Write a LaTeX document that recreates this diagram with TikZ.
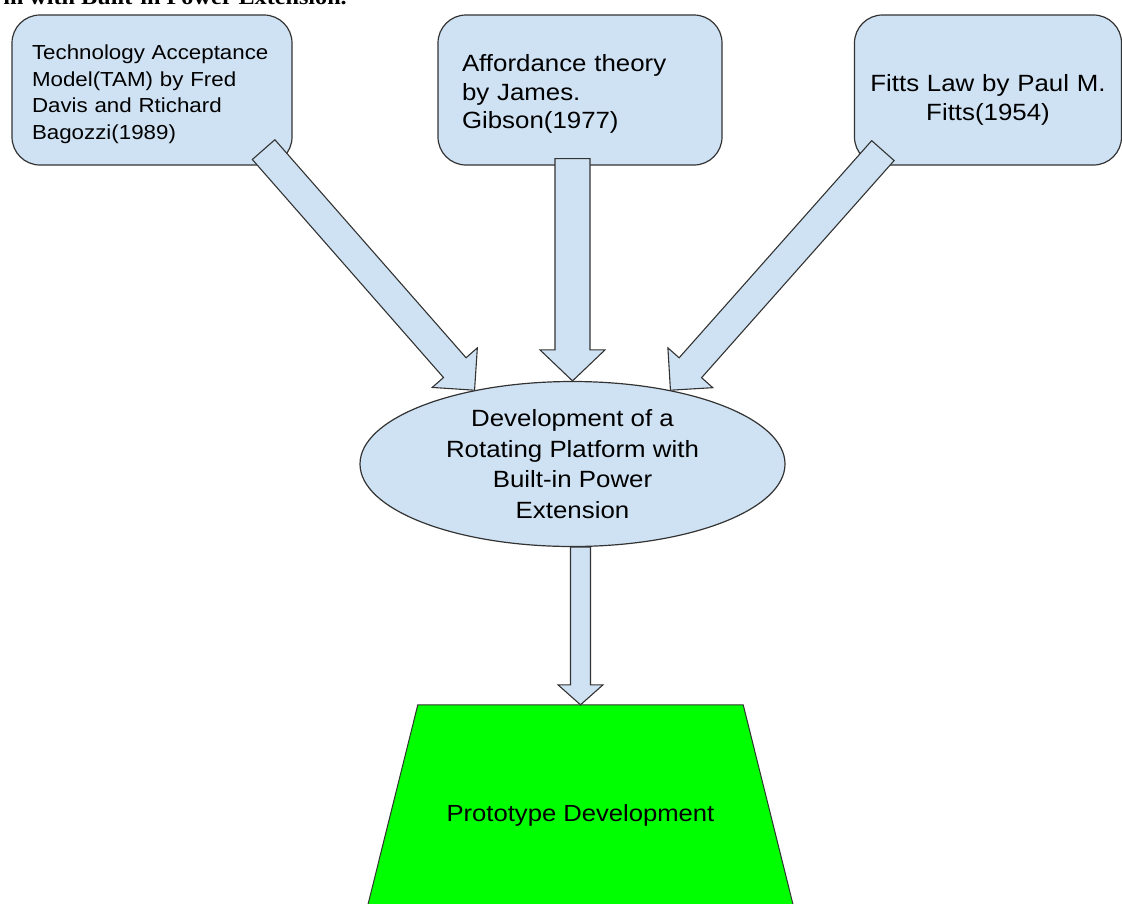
\documentclass[tikz,border=0pt]{standalone}
\usepackage{fontspec}
\setmainfont{Liberation Sans}[FakeStretch=1.1]
\newfontfamily\captionfont{Liberation Serif}[FakeStretch=1.1]
\usetikzlibrary{shapes.geometric}
\usetikzlibrary{calc}
\usetikzlibrary{backgrounds}
\definecolor{boxblue}{HTML}{CFE2F3}
\definecolor{protogreen}{HTML}{00FF00}
\definecolor{edgegray}{HTML}{333333}
\tikzset{
    mynode/.style={font=\fontsize{23.5}{28.5}\selectfont, text=black},
    theorybox/.style={draw=edgegray, fill=boxblue, line width=1.2pt, rounded corners=28pt, minimum height=150pt, inner ysep=0pt},
    flowarrow/.style={draw=edgegray, fill=boxblue, line width=1.1pt, line join=miter}
}
\newcommand{\toppad}[1]{\rule{0pt}{#1}}
% block arrow: tail, tip, half shaft, half head, head length
\newcommand{\blockarrow}[5]{%
    \path ($(#2)!#5!(#1)$) coordinate (ahbase);
    \draw[flowarrow] ($(#1)!#3!90:(#2)$) -- ($(ahbase)!#3!90:(#2)$) -- ($(ahbase)!#4!90:(#2)$) -- (#2)
        -- ($(ahbase)!#4!-90:(#2)$) -- ($(ahbase)!#3!-90:(#2)$) -- ($(#1)!#3!-90:(#2)$) -- cycle;
}

\begin{document}
\begin{tikzpicture}[x=1pt,y=-1pt]
        \useasboundingbox (0,0) rectangle (1122,903);
        \clip (0,0) rectangle (1122,903);

        % figures
        \node[font=\captionfont\bfseries\fontsize{22}{26}\selectfont,anchor=base east,inner sep=0pt] (caption) at (347,4) {Platform with Built-in Power Extension.}; % cut caption

        \node[theorybox,mynode,font=\fontsize{20.3}{26.5}\selectfont,align=left,text width=240pt,inner xsep=20pt,minimum width=280pt] (tam) at (152,90) {\toppad{23pt}Technology Acceptance\\Model(TAM) by Fred\\Davis and Rtichard\\Bagozzi(1989)}; % rounded box

        \node[theorybox,mynode,align=left,text width=236pt,inner xsep=24pt,minimum width=284pt] (aff) at (580,90) {\toppad{25pt}Affordance theory\\by James.\\Gibson(1977)}; % rounded box

        \node[theorybox,mynode,align=center,text width=260pt,inner xsep=3.5pt,minimum width=267pt] (fitts) at (988,90) {\toppad{37pt}Fitts Law by Paul M.\\Fitts(1954)}; % rounded box

        \node[ellipse,draw=edgegray,fill=boxblue,line width=1.2pt,minimum width=425pt,minimum height=165pt,inner sep=0pt,align=center,mynode,font=\fontsize{23.5}{30.5}\selectfont] (dev) at (572.5,464) {Development of a\\Rotating Platform with\\Built-in Power\\Extension}; % ellipse

        \node[mynode,font=\fontsize{23.3}{27}\selectfont,minimum width=325pt,minimum height=220pt,inner sep=0pt] (proto) at (580.5,815) {Prototype Development}; % trapezium
        \begin{scope}[on background layer]
            \filldraw[fill=protogreen,draw=edgegray,line width=1pt] (proto.north west) -- (proto.north east) -- ($(proto.south east)+(55,0)$) -- ($(proto.south west)+(-55,0)$) -- cycle;
        \end{scope}

        %arrows
        \coordinate (tamtail) at ($(tam.south east)+(-29,-16)$);
        \coordinate (afftail) at ($(dev.north |- aff.south)+(0,-7)$);
        \coordinate (fittstail) at ($(fitts.south west)+(29,-15)$);
        \coordinate (devtail) at (proto.north |- dev.south);

        \blockarrow{tamtail}{dev.143}{15pt}{30pt}{30pt}
        \blockarrow{afftail}{dev.north}{17.5pt}{32.5pt}{31pt}
        \blockarrow{fittstail}{dev.37}{15pt}{30pt}{30pt}
        \blockarrow{devtail}{proto.north}{10pt}{22.5pt}{20pt}
\end{tikzpicture}
\end{document}
